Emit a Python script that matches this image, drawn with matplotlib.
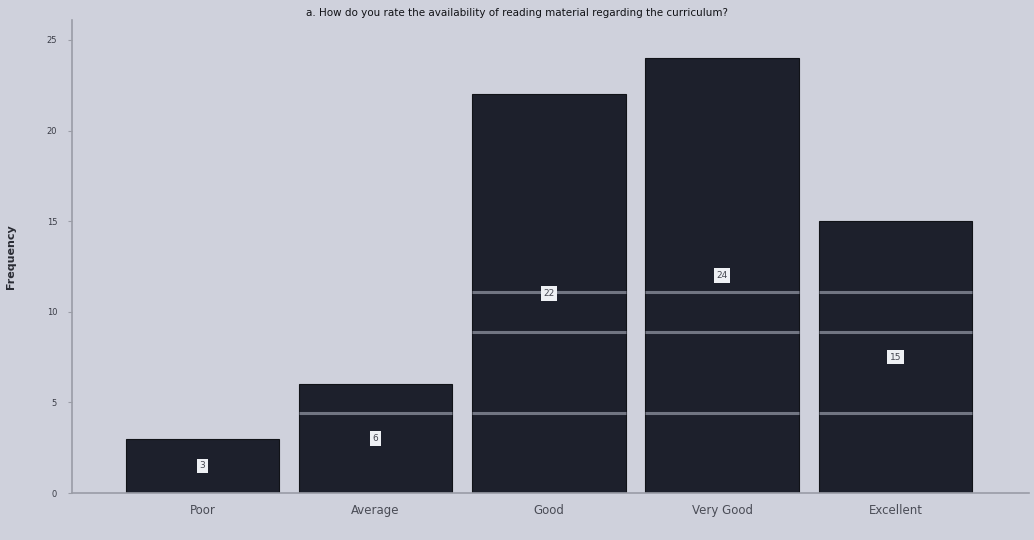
import numpy as np
import matplotlib
matplotlib.use("Agg")
import matplotlib.pyplot as plt

# Data
categories = ["Poor", "Average", "Good", "Very Good", "Excellent"]
frequency = [3, 6, 22, 24, 15]
y_ticks = [0, 5, 10, 15, 20, 25]
title = "a. How do you rate the availability of reading material regarding the curriculum?"

# light streaks across the dark bars (printer banding in the photo)
band_levels = [4.4, 8.9, 11.1]

BG = "#cfd1dc"
BAR = "#1d202c"
WIDTH = 0.885

fig = plt.figure(figsize=(10.34, 5.4), dpi=100, facecolor=BG)
ax = fig.add_axes([0.07, 0.087, 0.925, 0.876], facecolor=BG)

x = np.arange(len(categories))
bars = ax.bar(x, frequency, width=WIDTH, color=BAR, edgecolor="#111318", linewidth=0.8, zorder=2)

# streaks only show inside the bars
for b in bars:
    for lvl in band_levels:
        if lvl < b.get_height():
            ax.hlines(lvl, b.get_x(), b.get_x() + b.get_width(),
                      color="#8e92a0", lw=2.2, alpha=0.75, zorder=3)

for xi, v in zip(x, frequency):
    ax.text(xi, v / 2, str(v), ha="center", va="center", fontsize=6.5, color="#444650",
            bbox=dict(boxstyle="square,pad=0.3", fc="#eef0f4", ec="none"), zorder=5)

ax.set_xlim(-0.75, 4.77)
ax.set_ylim(0, 26.1)
ax.set_xticks(x)
ax.set_xticklabels(categories, fontsize=8.5, color="#4a4c56")
ax.set_yticks(y_ticks)
ax.set_yticklabels([str(t) for t in y_ticks], fontsize=6, color="#3a3c46")
ax.tick_params(axis="x", length=0, pad=8)
ax.tick_params(axis="y", length=3, color="#9a9ca6", pad=8)

for s in ["top", "right"]:
    ax.spines[s].set_visible(False)
for s in ["left", "bottom"]:
    ax.spines[s].set_color("#9a9ca6")
    ax.spines[s].set_linewidth(1.2)

ax.set_ylabel("Frequency", fontsize=8, fontweight="bold", color="#2a2c34", labelpad=22)
fig.text(0.5, 0.985, title, ha="center", va="top", fontsize=7.5, color="#111216")

fig.savefig("out.png", dpi=100, facecolor=BG)
